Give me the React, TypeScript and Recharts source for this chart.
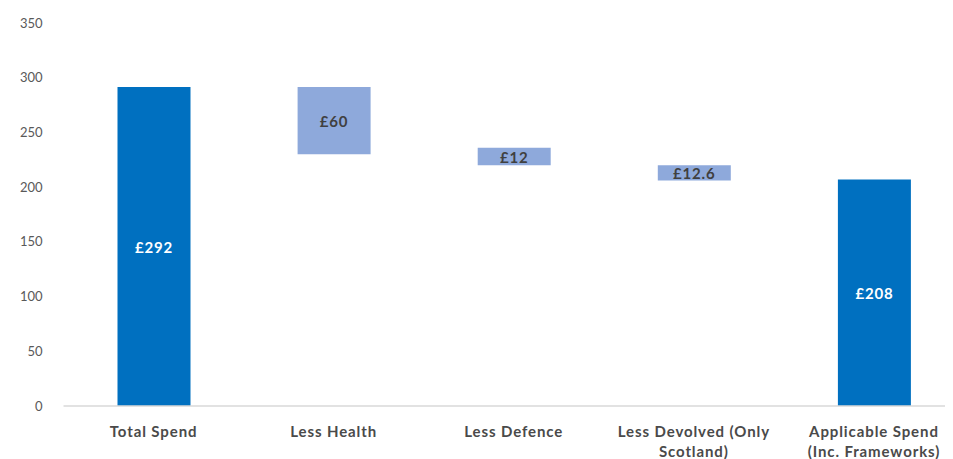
import React from "react";
import { BarChart, Bar, XAxis, YAxis, LabelList, Cell } from "recharts";

const categories = [
  "Total Spend",
  "Less Health",
  "Less Defence",
  "Less Devolved (Only\nScotland)",
  "Applicable Spend\n(Inc. Frameworks)",
];
// bar extents as drawn in the picture (bottom / top of each floating bar)
const barBottoms = [0, 230, 220, 206, 0];
const barTops = [291.5, 291.5, 236, 220, 207];
const kinds = ["total", "step", "step", "step", "total"];
const labels = ["£292", "£60", "£12", "£12.6", "£208"];
const yTicks = [0, 50, 100, 150, 200, 250, 300, 350];

const DARK = "#0070C0";
const LIGHT = "#8EA9DB";
const FONT = "Lato, 'Liberation Sans', sans-serif";

const data = categories.map((name, i) => ({
  name,
  range: [barBottoms[i], barTops[i]],
  label: labels[i],
  kind: kinds[i],
}));

const CategoryTick = (props: any) => {
  const { x, y, payload } = props;
  const lines = String(payload.value).split("\n");
  return (
    <g transform={`translate(${x},${y})`}>
      {lines.map((ln, i) => (
        <text
          key={i}
          x={0}
          y={0}
          dy={i * 20 + 11}
          textAnchor="middle"
          dominantBaseline="hanging"
          fill="#4a4a4a"
          fontFamily={FONT}
          fontWeight="bold"
          fontSize={15}
          letterSpacing={0.9}
        >
          {ln}
        </text>
      ))}
    </g>
  );
};

const ValueLabel = (props: any) => {
  const { x, y, width, height, value, index } = props;
  const isTotal = data[index].kind === "total";
  return (
    <text
      x={x + width / 2}
      y={y + height / 2}
      textAnchor="middle"
      dominantBaseline="central"
      fill={isTotal ? "#FFFFFF" : "#404040"}
      fontFamily={FONT}
      fontWeight="bold"
      fontSize={15}
      letterSpacing={0.8}
    >
      {value}
    </text>
  );
};

export default function App() {
  return (
    <div style={{ width: 945, height: 451, overflow: "hidden" }}>
      <BarChart
        width={960}
        height={451}
        data={data}
        margin={{ top: 15, right: 4, bottom: 3, left: 0 }}
        barSize={73}
      >
        <XAxis
          dataKey="name"
          tick={<CategoryTick />}
          tickLine={false}
          axisLine={{ stroke: "#D9D9D9", strokeWidth: 1.5 }}
          interval={0}
          height={50}
        />
        <YAxis
          domain={[0, 350]}
          ticks={yTicks}
          width={55.5}
          axisLine={false}
          tickLine={false}
          tickSize={0}
          tickMargin={21}
          tick={{ fill: "#595959", fontSize: 13, fontFamily: FONT }}
          interval={0}
        />
        <Bar dataKey="range" isAnimationActive={false}>
          {data.map((d, i) => (
            <Cell key={i} fill={d.kind === "total" ? DARK : LIGHT} />
          ))}
          <LabelList dataKey="label" content={<ValueLabel />} />
        </Bar>
      </BarChart>
    </div>
  );
}
